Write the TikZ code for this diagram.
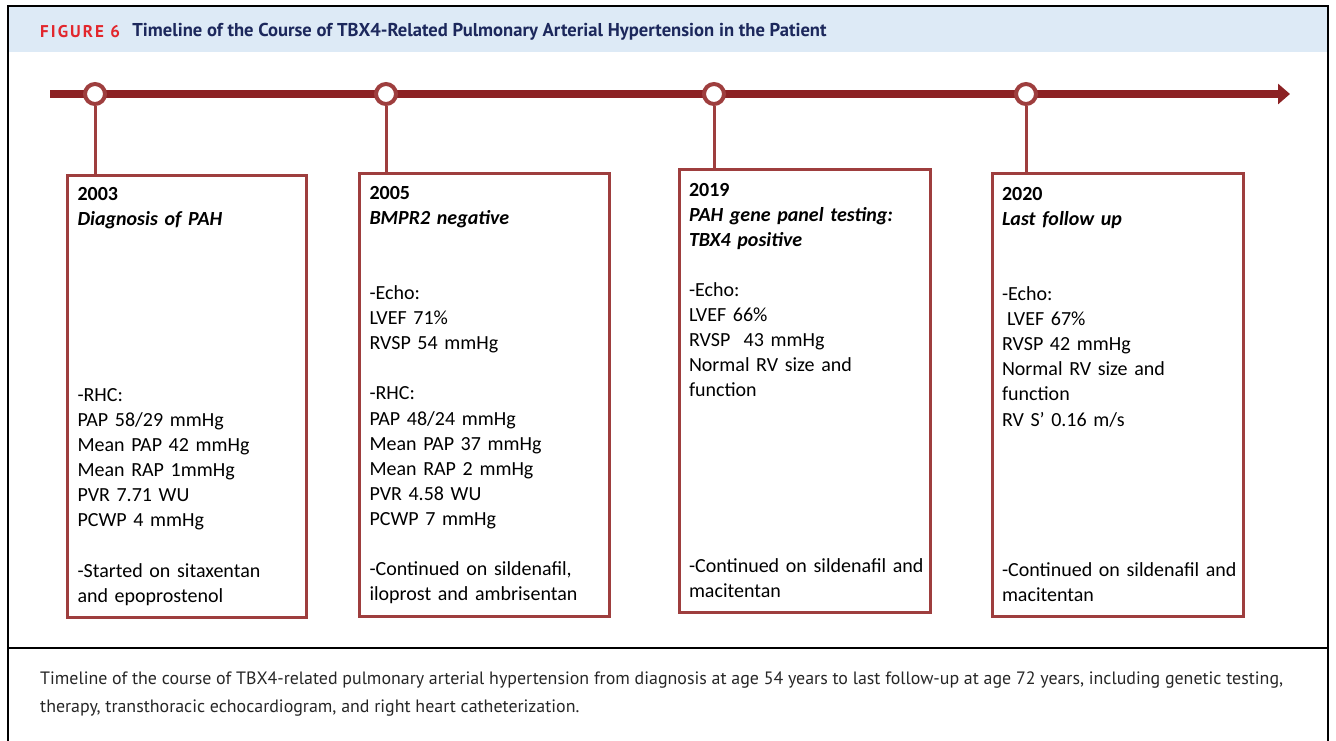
\documentclass[tikz,border=0pt]{standalone}
\usepackage{fontspec}
\setmainfont{Carlito}
\newfontfamily\jaccfont{PT Sans}
\newfontfamily\figfont[LetterSpace=12]{PT Sans}
\usetikzlibrary{positioning,arrows.meta,calc}
\definecolor{tlred}{RGB}{140,34,36}
\definecolor{boxred}{RGB}{158,62,62}
\definecolor{headblue}{RGB}{221,234,246}
\definecolor{figred}{RGB}{226,38,44}
\definecolor{titleblue}{RGB}{28,40,92}

\begin{document}
\begin{tikzpicture}[
  x=1pt, y=-1pt,
  event/.style={rectangle, draw=boxred, line width=3pt, anchor=north west,
                align=left, inner xsep=10pt, inner ysep=0pt,
                font=\fontsize{20}{25.1}\selectfont},
  dot/.style={circle, draw=boxred, line width=4pt, fill=white,
              minimum size=20pt, inner sep=0pt},
  stem/.style={draw=boxred, line width=3pt},
  axis/.style={draw=tlred, line width=8pt, -{Triangle[length=12pt,width=20pt]}},
]
\useasboundingbox (0,0) rectangle (1336,740);

% Frame and header band
\fill[headblue] (8,6) rectangle (1328,52);
\draw[line width=2pt] (8,6) rectangle (1328,760);
\draw[line width=1.5pt] (8,648) -- (1328,648);

% Title
\node[anchor=west, inner sep=0pt, font=\fontsize{17}{20}\selectfont\figfont\bfseries, text=figred]
  (fig) at (40,32) {FIGURE 6};
\node[right=12pt of fig, inner sep=0pt, font=\fontsize{18.6}{22}\selectfont\jaccfont\bfseries, text=titleblue]
  (title) {Timeline of the Course of TBX4-Related Pulmonary Arterial Hypertension in the Patient};

% Timeline axis
\coordinate (ax-start) at (50,94);
\coordinate (ax-end) at (1290,94);
\draw[axis] (ax-start) -- (ax-end);

% Event boxes
\node[event, text width=219pt, minimum height=442pt] (b1) at (66,174)
  {\textbf{2003}\\
   \textbf{\textit{Diagnosis of PAH}}\\[6\baselineskip]
   -RHC:\\
   PAP 58/29 mmHg\\
   Mean PAP 42 mmHg\\
   Mean RAP 1mmHg\\
   PVR 7.71 WU\\
   PCWP 4 mmHg\\[\baselineskip]
   \mbox{-Started on sitaxentan}\\
   and epoprostenol};
\node[event, text width=230pt, minimum height=443pt] (b2) at (358,172)
  {\textbf{2005}\\
   \textbf{\textit{BMPR2 negative}}\\[2\baselineskip]
   -Echo:\\
   LVEF 71\%\\
   RVSP 54 mmHg\\[\baselineskip]
   -RHC:\\
   PAP 48/24 mmHg\\
   Mean PAP 37 mmHg\\
   Mean RAP 2 mmHg\\
   PVR 4.58 WU\\
   PCWP 7 mmHg\\[\baselineskip]
   \mbox{-Continued on sildenafil,}\\
   \mbox{iloprost and ambrisentan}};
\node[event, text width=231pt, minimum height=443pt] (b3) at (677.5,167.5)
  {\textbf{2019}\\
   \textbf{\textit{PAH gene panel testing:}}\\
   \textbf{\textit{TBX4 positive}}\\[\baselineskip]
   -Echo:\\
   LVEF 66\%\\
   RVSP\ \ 43 mmHg\\
   Normal RV size and\\
   function\\[6\baselineskip]
   \mbox{-Continued on sildenafil and}\\
   macitentan};
\node[event, text width=231pt, minimum height=443pt] (b4) at (990.5,171.5)
  {\textbf{2020}\\
   \textbf{\textit{Last follow up}}\\[2\baselineskip]
   -Echo:\\
   \hspace*{0.25em}LVEF 67\%\\
   RVSP 42 mmHg\\
   Normal RV size and\\
   function\\
   RV S’ 0.16 m/s\\[5\baselineskip]
   \mbox{-Continued on sildenafil and}\\
   macitentan};

% Milestones on the axis
\node[dot] (d1) at (95,94) {};
\node[dot] (d2) at (386,94) {};
\node[dot] (d3) at (714,94) {};
\node[dot] (d4) at (1026,94) {};

% Stems down to the boxes
\draw[stem] (d1.south) -- (d1.south |- b1.north);
\draw[stem] (d2.south) -- (d2.south |- b2.north);
\draw[stem] (d3.south) -- (d3.south |- b3.north);
\draw[stem] (d4.south) -- (d4.south |- b4.north);

% Caption
\node[anchor=north west, align=left, inner sep=0pt,
      font=\fontsize{17.9}{28}\selectfont\jaccfont, text=black!85] (cap) at (40,672)
  {Timeline of the course of TBX4-related pulmonary arterial hypertension from diagnosis at age 54 years to last follow-up at age 72 years, including genetic testing,\\
   therapy, transthoracic echocardiogram, and right heart catheterization.};

\end{tikzpicture}
\end{document}
